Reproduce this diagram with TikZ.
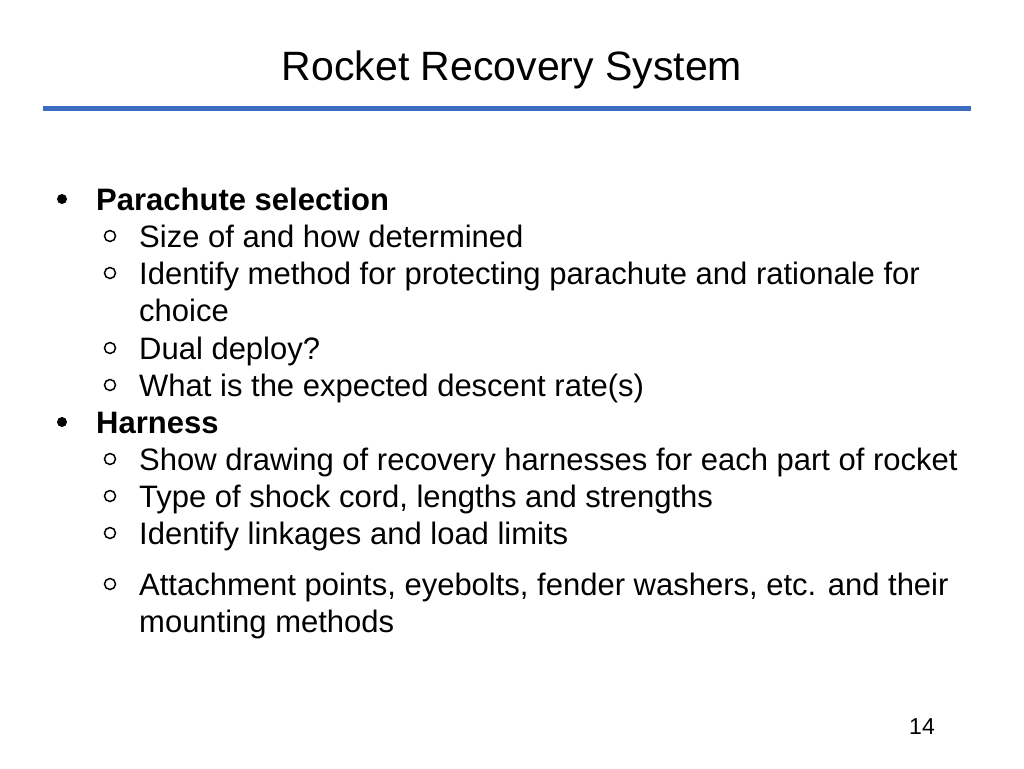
\documentclass[tikz,border=0pt]{standalone}
\usepackage{fontspec}
\setmainfont{Liberation Sans}
\begin{document}
\begin{tikzpicture}[x=1pt,y=-1pt,
  txt/.style={anchor=base west,inner sep=0pt,font=\fontsize{31}{34}\selectfont},
  bul/.style={circle,fill=black,inner sep=0pt,minimum size=10pt},
  sub/.style={circle,draw=black,line width=1.5pt,inner sep=0pt,minimum size=11pt}]
\useasboundingbox (0,0) rectangle (1024,768);
\node[anchor=base,inner sep=0pt,font=\fontsize{41}{44}\selectfont] (title) at (512,80) {Rocket Recovery System};
\definecolor{rule}{HTML}{3D6CC0}
\coordinate (l1) at (43,108); \coordinate (l2) at (971,108);
\draw[rule,line width=5pt] (l1) -- (l2);
\node[bul] (b1) at (62,199) {};
\node[txt,font=\fontsize{31}{34}\selectfont\bfseries] (t1) at (96,210) {Parachute selection};
\node[sub] (s1) at (110,236) {}; \node[txt] (t2) at (139,247) {Size of and how determined};
\node[sub] (s2) at (110,273) {}; \node[txt] (t3) at (139,284) {Identify method for protecting parachute and rationale for};
\node[txt] (t4) at (139,321) {choice};
\node[sub] (s3) at (110,348) {}; \node[txt] (t5) at (139,359) {Dual deploy?};
\node[sub] (s4) at (110,385) {}; \node[txt] (t6) at (139,396) {What is the expected descent rate(s)};
\node[bul] (b2) at (62,422) {};
\node[txt,font=\fontsize{31}{34}\selectfont\bfseries] (t7) at (96,433) {Harness};
\node[sub] (s5) at (110,459) {}; \node[txt] (t8) at (139,470) {Show drawing of recovery harnesses for each part of rocket};
\node[sub] (s6) at (110,496) {}; \node[txt] (t9) at (139,507) {Type of shock cord, lengths and strengths};
\node[sub] (s7) at (110,533) {}; \node[txt] (t10) at (139,544) {Identify linkages and load limits};
\node[sub] (s8) at (110,584) {}; \node[txt] (t11) at (139,595) {Attachment points, eyebolts, fender washers, etc. and their};
\node[txt] (t12) at (139,632) {mounting methods};
\node[anchor=base,inner sep=0pt,font=\fontsize{23}{25}\selectfont] (pg) at (922,734) {14};
\end{tikzpicture}
\end{document}
